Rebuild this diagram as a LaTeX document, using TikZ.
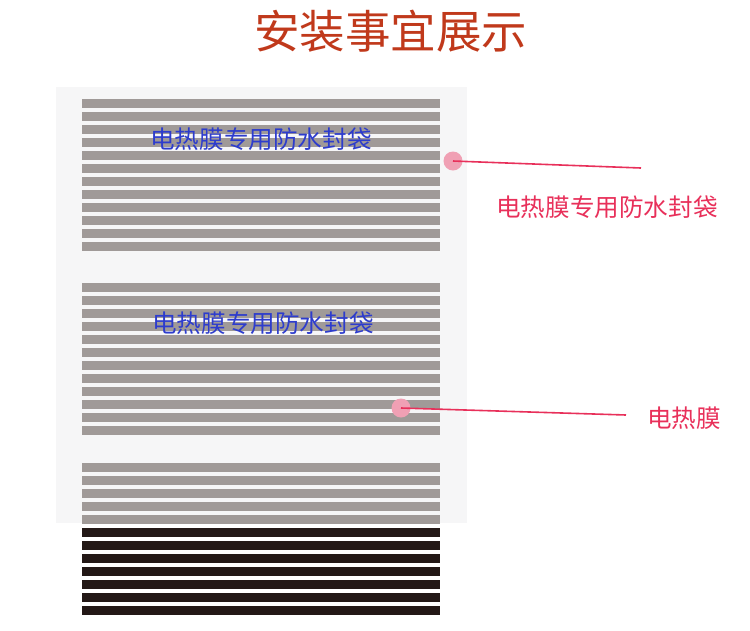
\documentclass[tikz,border=0pt]{standalone}
\usepackage{fontspec}
\newfontfamily\cjk{Noto Sans CJK SC}
\definecolor{titlered}{RGB}{192,57,27}
\definecolor{bagblue}{RGB}{45,60,205}
\definecolor{calloutred}{RGB}{232,48,90}
\definecolor{dotpink}{RGB}{240,160,180}
\definecolor{stripegrey}{RGB}{160,154,152}
\definecolor{stripeblack}{RGB}{35,24,22}
\definecolor{panelgrey}{RGB}{246,246,247}
\tikzset{
  cjklabel/.style={inner sep=0pt, font=\cjk\fontsize{24.6}{28}\selectfont},
  dotmark/.style={circle, fill=dotpink, inner sep=0pt, minimum size=19pt},
  pointer/.style={line width=1.6pt, color=calloutred}
}

\begin{document}
\begin{tikzpicture}[line cap=butt,line join=round,x=1.0pt,y=-1.0pt]
					\useasboundingbox (0,0) rectangle (750,630);
					\node[inner sep=0pt, font=\cjk\fontsize{45.5}{50}\selectfont, color=titlered] (title) at (390.5,31) {安装事宜展示};
					\fill[panelgrey] (56,87) rectangle (467,523);
					% film strips, three rolls
					\foreach \k in {0,...,11} \fill[stripegrey] (82,99+13*\k) rectangle (440,108+13*\k);
					\foreach \k in {0,...,11} \fill[stripegrey] (82,283+13*\k) rectangle (440,292+13*\k);
					\foreach \k in {0,...,4} \fill[stripegrey] (82,463+13*\k) rectangle (440,472+13*\k);
					\foreach \k in {0,...,6} \fill[stripeblack] (82,528+13*\k) rectangle (440,537+13*\k);
					\node[cjklabel, color=bagblue] (bagA) at (261,139) {电热膜专用防水封袋};
					\node[cjklabel, color=bagblue] (bagB) at (263,323) {电热膜专用防水封袋};
					% callouts
					\node[dotmark] (dotbag) at (453,161) {};
					\coordinate (endbag) at (641,168);
					\draw[pointer] (dotbag.center) -- (endbag);
					\node[cjklabel, color=calloutred] (labelbag) at (607,207) {电热膜专用防水封袋};
					\node[dotmark] (dotfilm) at (401,408) {};
					\coordinate (endfilm) at (626,415);
					\draw[pointer] (dotfilm.center) -- (endfilm);
					\node[cjklabel, color=calloutred] (labelfilm) at (684,418) {电热膜};
				\end{tikzpicture}
\end{document}
